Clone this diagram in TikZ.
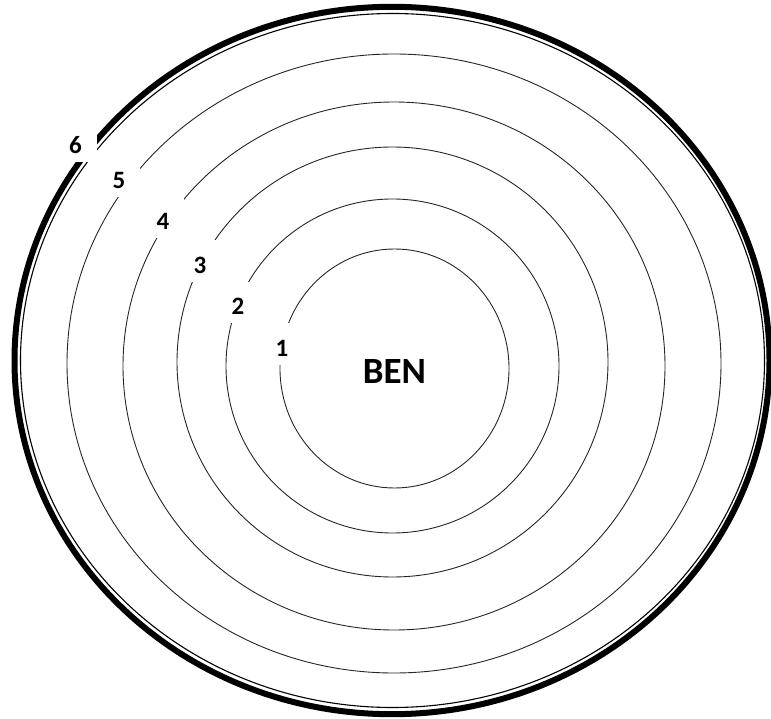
\documentclass[tikz,border=0pt]{standalone}
\usepackage{fontspec}
\setmainfont{Carlito}
\usetikzlibrary{positioning}

\begin{document}
\begin{tikzpicture}[x=1pt, y=-1pt,
      ring/.style={draw=black!85, line width=0.9pt},
      rim/.style={draw=black, line width=6pt},
      rimin/.style={draw=black, line width=1.1pt},
      num/.style={fill=white, inner sep=0pt, minimum width=42pt,
                  text height=33pt, text depth=8.5pt, anchor=base,
                  font=\fontsize{25}{25}\selectfont\bfseries},
      title/.style={font=\fontsize{37}{37}\selectfont\bfseries}]
    \useasboundingbox (0,0) rectangle (771,719);
    % rings 1 to 5, inside out
    \draw[ring] (394.5,368.5) ellipse [x radius=114.5, y radius=119.5];
    \draw[ring] (392.5,366) ellipse [x radius=166.5, y radius=167];
    \draw[ring] (392.5,362) ellipse [x radius=215.5, y radius=215];
    \draw[ring] (394,366) ellipse [x radius=271, y radius=264];
    \draw[ring] (394,363.5) ellipse [x radius=327, y radius=309.5];
    % ring 6, double rim
    \draw[rim] (392,360.5) ellipse [x radius=377.5, y radius=353.7];
    \draw[rimin] (392.5,360.5) ellipse [x radius=372, y radius=347];
    \node[title] (ben) at (394.5,372) {BEN};
    \node[num] (n1) at (282,356.5) {1};
    \node[num] (n2) at (238,315) {2};
    \node[num] (n3) at (200,273.5) {3};
    \node[num] (n4) at (163,230) {4};
    \node[num] (n5) at (119,189) {5};
    \node[num] (n6) at (75.5,154) {6};
  \end{tikzpicture}
\end{document}
